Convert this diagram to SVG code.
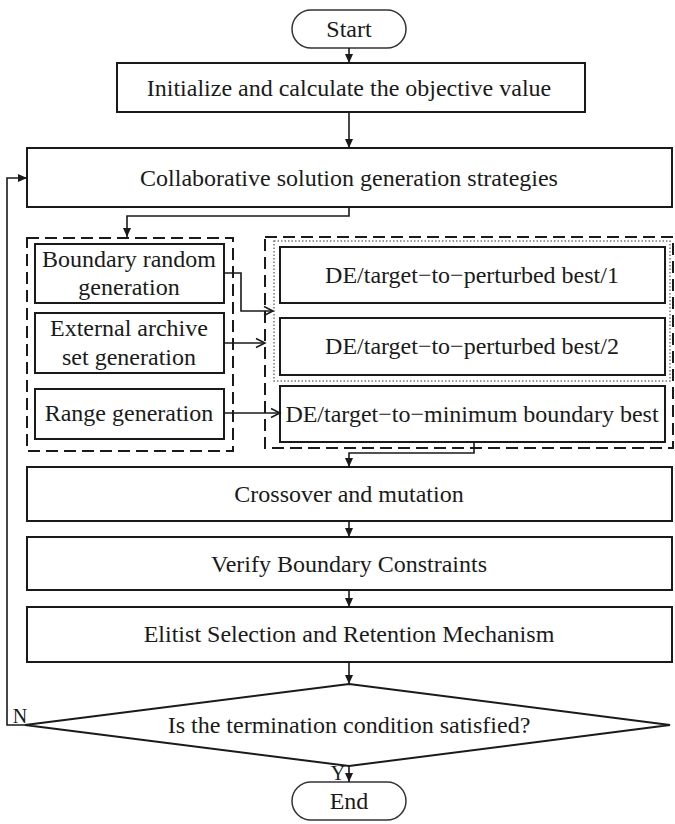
<svg xmlns="http://www.w3.org/2000/svg" width="675" height="824" viewBox="0 0 675 824">
<defs>
<style>
.box{fill:#fff;stroke:#1a1a1a;stroke-width:2}
.pill{fill:#fff;stroke:#333;stroke-width:1.5}
.dash{fill:none;stroke:#1a1a1a;stroke-width:2;stroke-dasharray:12,6}
.dot{fill:none;stroke:#777;stroke-width:1.5;stroke-dasharray:1.5,2}
.ln{fill:none;stroke:#1a1a1a;stroke-width:1.6}
text{font-family:"Liberation Serif","Times New Roman",serif;font-size:24px;fill:#1a1a1a;text-anchor:middle;dominant-baseline:central}
.lbl{font-size:20px}
</style>
<marker id="ah" markerWidth="10" markerHeight="10" refX="9" refY="5" orient="auto" markerUnits="userSpaceOnUse">
<path d="M0,1 L9,5 L0,9 Z" fill="#1a1a1a"/>
</marker>
<marker id="oh" markerWidth="12" markerHeight="12" refX="10" refY="6" orient="auto" markerUnits="userSpaceOnUse">
<path d="M1,1.5 L10,6 L1,10.5" fill="none" stroke="#1a1a1a" stroke-width="1.5"/>
</marker>
</defs>
<rect width="675" height="824" fill="#fff"/>

<g id="start"><rect class="pill" x="292" y="10" width="114" height="38" rx="19"/><text x="349" y="29">Start</text></g>
<g id="init"><rect class="box" x="117" y="63" width="468" height="49"/><text x="349" y="88">Initialize and calculate the objective value</text></g>
<g id="collab"><rect class="box" x="27" y="148" width="645" height="59"/><text x="349" y="178">Collaborative solution generation strategies</text></g>

<g id="leftgroup"><rect class="dash" x="27" y="238" width="206" height="213"/></g>
<g id="boundary"><rect class="box" x="35" y="244" width="189" height="59"/><text x="129" y="259">Boundary random</text><text x="129" y="287">generation</text></g>
<g id="external"><rect class="box" x="35" y="313" width="189" height="60"/><text x="129" y="328">External archive</text><text x="129" y="357">set generation</text></g>
<g id="range"><rect class="box" x="35" y="389" width="189" height="50"/><text x="129" y="413">Range generation</text></g>

<g id="rightgroup"><rect class="dash" x="265" y="237" width="408" height="211"/><rect class="dot" x="274" y="241" width="396" height="140"/></g>
<g id="de1"><rect class="box" x="280" y="247" width="385" height="56"/><text x="472" y="275">DE/target−to−perturbed best/1</text></g>
<g id="de2"><rect class="box" x="280" y="318" width="385" height="57"/><text x="472" y="346">DE/target−to−perturbed best/2</text></g>
<g id="de3"><rect class="box" x="280" y="386" width="385" height="56"/><text x="472" y="414">DE/target−to−minimum boundary best</text></g>

<g id="crossover"><rect class="box" x="27" y="467" width="645" height="54"/><text x="349" y="494">Crossover and mutation</text></g>
<g id="verify"><rect class="box" x="27" y="537" width="645" height="53"/><text x="349" y="564">Verify Boundary Constraints</text></g>
<g id="elitist"><rect class="box" x="27" y="607" width="645" height="55"/><text x="349" y="634">Elitist Selection and Retention Mechanism</text></g>
<g id="decision"><polygon class="box" points="349,684 670,725 349,766 25,725"/><text x="349" y="725">Is the termination condition satisfied?</text></g>
<g id="end"><rect class="pill" x="292" y="782" width="114" height="38" rx="19"/><text x="349" y="801">End</text></g>

<g id="connectors">
<line class="ln" x1="349" y1="48" x2="349" y2="63" marker-end="url(#ah)"/>
<line class="ln" x1="349" y1="112" x2="349" y2="148" marker-end="url(#ah)"/>
<polyline class="ln" points="349,207 349,216 127,216 127,237" marker-end="url(#ah)"/>
<polyline class="ln" points="224,273 241,273 241,311 273,311" marker-end="url(#oh)"/>
<line class="ln" x1="224" y1="343" x2="265" y2="343" marker-end="url(#oh)"/>
<line class="ln" x1="224" y1="413" x2="280" y2="413" marker-end="url(#oh)"/>
<polyline class="ln" points="474,442 474,453 349,453 349,467" marker-end="url(#ah)"/>
<line class="ln" x1="349" y1="521" x2="349" y2="537" marker-end="url(#ah)"/>
<line class="ln" x1="349" y1="590" x2="349" y2="607" marker-end="url(#ah)"/>
<line class="ln" x1="349" y1="662" x2="349" y2="684" marker-end="url(#ah)"/>
<line class="ln" x1="349" y1="766" x2="349" y2="782" marker-end="url(#ah)"/>
<polyline class="ln" points="25,725 7,725 7,178 27,178" marker-end="url(#ah)"/>
<text class="lbl" x="20" y="716">N</text>
<text class="lbl" x="338" y="773">Y</text>
</g>
</svg>
